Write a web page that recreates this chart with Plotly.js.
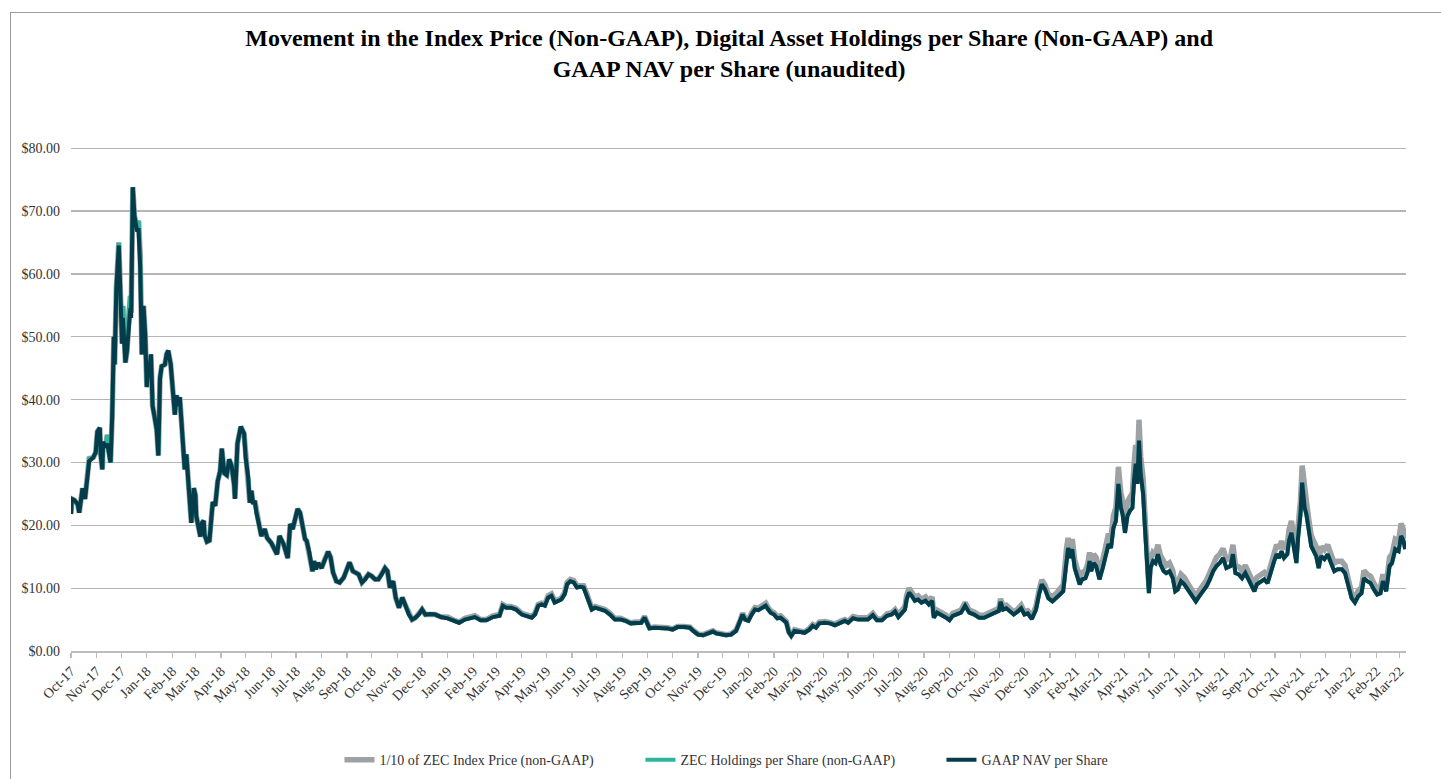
<!DOCTYPE html>
<html>
<head>
<meta charset="utf-8">
<script src="https://cdn.plot.ly/plotly-3.0.1.min.js"></script>
<style>
  html, body { margin: 0; padding: 0; background: #ffffff; overflow: hidden; }
  #frame { position: absolute; left: 10px; top: 12px; width: 1500px; height: 900px; border: 1px solid #9a9a9a; box-sizing: border-box; }
  #chart { position: absolute; left: 0; top: 0; width: 1441px; height: 779px; }
</style>
</head>
<body>
<div id="frame"></div>
<div id="chart"></div>
<script>
// ---- data ----
const seriesNames = [
  '1/10 of ZEC Index Price (non-GAAP)',
  'ZEC Holdings per Share (non-GAAP)',
  'GAAP NAV per Share'
];

const dates = [
  '2017-10-01','2017-10-02','2017-10-05','2017-10-09','2017-10-11','2017-10-15','2017-10-18','2017-10-21','2017-10-23','2017-10-28','2017-10-31',
  '2017-11-02','2017-11-05','2017-11-06','2017-11-08','2017-11-09','2017-11-12','2017-11-14','2017-11-16','2017-11-18','2017-11-20','2017-11-22','2017-11-23','2017-11-25','2017-11-28','2017-11-30',
  '2017-12-02','2017-12-03','2017-12-06','2017-12-08','2017-12-10','2017-12-12','2017-12-13','2017-12-15','2017-12-17','2017-12-20','2017-12-22','2017-12-24','2017-12-26','2017-12-28','2017-12-30',
  '2018-01-01','2018-01-03','2018-01-04','2018-01-06','2018-01-08','2018-01-11','2018-01-13','2018-01-15','2018-01-17','2018-01-19','2018-01-23','2018-01-25','2018-01-27','2018-01-30',
  '2018-02-02','2018-02-04','2018-02-06','2018-02-08','2018-02-10','2018-02-12','2018-02-14','2018-02-16','2018-02-18','2018-02-20','2018-02-22','2018-02-24','2018-02-27',
  '2018-03-01','2018-03-02','2018-03-05','2018-03-07','2018-03-09','2018-03-11','2018-03-12','2018-03-15','2018-03-18','2018-03-22','2018-03-25','2018-03-28','2018-03-31',
  '2018-04-02','2018-04-05','2018-04-08','2018-04-11','2018-04-14','2018-04-17','2018-04-18','2018-04-21','2018-04-25','2018-04-29',
  '2018-05-01','2018-05-04','2018-05-06','2018-05-08','2018-05-10','2018-05-12','2018-05-14','2018-05-18','2018-05-20','2018-05-24','2018-05-27',
  '2018-06-01','2018-06-05','2018-06-08','2018-06-11','2018-06-14','2018-06-16','2018-06-21','2018-06-24','2018-06-27','2018-06-29',
  '2018-07-03','2018-07-06','2018-07-09','2018-07-12','2018-07-14','2018-07-17','2018-07-21','2018-07-23','2018-07-25','2018-07-28',
  '2018-08-01','2018-08-05','2018-08-09','2018-08-12','2018-08-15','2018-08-19','2018-08-23','2018-08-28',
  '2018-09-01','2018-09-04','2018-09-08','2018-09-11','2018-09-15','2018-09-19','2018-09-23','2018-09-27',
  '2018-10-01','2018-10-05','2018-10-09','2018-10-13','2018-10-17','2018-10-20','2018-10-23','2018-10-27','2018-10-30',
  '2018-11-03','2018-11-07','2018-11-11','2018-11-15','2018-11-19','2018-11-23','2018-11-27',
  '2018-12-01','2018-12-05','2018-12-11','2018-12-17','2018-12-24',
  '2019-01-01','2019-01-09','2019-01-15','2019-01-22','2019-01-28',
  '2019-02-03','2019-02-10','2019-02-17','2019-02-25',
  '2019-03-05','2019-03-09','2019-03-13','2019-03-19','2019-03-25',
  '2019-04-01','2019-04-07','2019-04-13','2019-04-17','2019-04-21','2019-04-25','2019-04-29',
  '2019-05-03','2019-05-07','2019-05-11','2019-05-15','2019-05-19','2019-05-23','2019-05-26','2019-05-30',
  '2019-06-03','2019-06-07','2019-06-11','2019-06-15','2019-06-19','2019-06-23','2019-06-25','2019-06-29',
  '2019-07-05','2019-07-11','2019-07-17','2019-07-23','2019-07-30',
  '2019-08-05','2019-08-11','2019-08-17','2019-08-24','2019-08-28',
  '2019-09-01','2019-09-03','2019-09-09','2019-09-17','2019-09-25',
  '2019-10-01','2019-10-07','2019-10-15','2019-10-22','2019-10-26',
  '2019-11-01','2019-11-07','2019-11-13','2019-11-19','2019-11-23','2019-11-29',
  '2019-12-05','2019-12-11','2019-12-17','2019-12-22','2019-12-25','2019-12-28',
  '2020-01-01','2020-01-05','2020-01-09','2020-01-13','2020-01-17','2020-01-22','2020-01-25','2020-01-28',
  '2020-02-01','2020-02-05','2020-02-09','2020-02-13','2020-02-16','2020-02-19','2020-02-22','2020-02-26',
  '2020-03-03','2020-03-09','2020-03-15','2020-03-19','2020-03-23','2020-03-27',
  '2020-04-03','2020-04-09','2020-04-15','2020-04-21','2020-04-27',
  '2020-05-01','2020-05-07','2020-05-13','2020-05-19','2020-05-25','2020-05-31',
  '2020-06-05','2020-06-11','2020-06-17','2020-06-23','2020-06-27',
  '2020-07-01','2020-07-05','2020-07-09','2020-07-11','2020-07-14','2020-07-17','2020-07-21','2020-07-25','2020-07-29',
  '2020-08-03','2020-08-07','2020-08-11','2020-08-13','2020-08-17','2020-08-22','2020-08-28',
  '2020-09-01','2020-09-05','2020-09-09','2020-09-15','2020-09-20','2020-09-25',
  '2020-10-01','2020-10-07','2020-10-13','2020-10-19','2020-10-25','2020-10-31',
  '2020-11-02','2020-11-05','2020-11-09','2020-11-13','2020-11-18','2020-11-23','2020-11-27',
  '2020-12-01','2020-12-05','2020-12-10','2020-12-15','2020-12-19','2020-12-22','2020-12-26','2020-12-30',
  '2021-01-04','2021-01-09','2021-01-13','2021-01-17','2021-01-21','2021-01-23','2021-01-25','2021-01-28','2021-01-31',
  '2021-02-03','2021-02-06','2021-02-09','2021-02-13','2021-02-16','2021-02-18','2021-02-20','2021-02-23','2021-02-26',
  '2021-03-02','2021-03-06','2021-03-10','2021-03-13','2021-03-16','2021-03-19','2021-03-22','2021-03-25','2021-03-28','2021-03-30',
  '2021-04-02','2021-04-05','2021-04-08','2021-04-11','2021-04-13','2021-04-15','2021-04-17','2021-04-19','2021-04-21','2021-04-24','2021-04-26','2021-04-28',
  '2021-05-01','2021-05-03','2021-05-06','2021-05-09','2021-05-12','2021-05-15','2021-05-19','2021-05-22','2021-05-26','2021-05-30',
  '2021-06-02','2021-06-05','2021-06-09','2021-06-13','2021-06-17','2021-06-21','2021-06-25','2021-06-27',
  '2021-07-01','2021-07-06','2021-07-10','2021-07-14','2021-07-18','2021-07-22','2021-07-26','2021-07-30',
  '2021-08-03','2021-08-08','2021-08-11','2021-08-14','2021-08-18','2021-08-22','2021-08-26','2021-08-31',
  '2021-09-03','2021-09-06','2021-09-09','2021-09-14','2021-09-18','2021-09-22','2021-09-26','2021-09-30',
  '2021-10-03','2021-10-06','2021-10-09','2021-10-12','2021-10-16','2021-10-18','2021-10-21','2021-10-24','2021-10-27','2021-10-29',
  '2021-11-01','2021-11-03','2021-11-06','2021-11-08','2021-11-11','2021-11-14','2021-11-17','2021-11-20','2021-11-23','2021-11-26','2021-11-30',
  '2021-12-04','2021-12-08','2021-12-12','2021-12-16','2021-12-21','2021-12-25','2021-12-29',
  '2022-01-02','2022-01-06','2022-01-10','2022-01-14','2022-01-17','2022-01-21','2022-01-25','2022-01-29',
  '2022-02-02','2022-02-06','2022-02-09','2022-02-13','2022-02-17','2022-02-20','2022-02-24','2022-02-28',
  '2022-03-03','2022-03-06','2022-03-08'
];

// 1/10 of ZEC Index Price (non-GAAP)
const indexPrice = [
  21.8,24.2,24.0,23.4,22.0,25.9,24.2,28.6,30.6,30.8,31.6,
  34.9,35.5,31.3,28.9,33.3,32.4,34.4,31.1,30.0,37.4,50.0,45.6,57.6,65.0,55.5,
  48.9,54.9,45.9,47.8,54.4,56.5,53.8,73.8,69.2,67.5,68.5,63.0,47.2,54.9,50.5,
  42.0,45.6,44.5,47.2,39.0,36.8,35.2,31.1,43.4,45.3,45.6,47.2,47.8,45.6,
  39.6,37.6,40.7,39.0,40.4,36.3,32.4,28.9,31.3,27.5,24.2,20.4,25.9,
  24.8,21.5,19.0,18.2,20.4,20.7,18.5,17.4,17.6,23.7,23.1,27.0,28.6,
  32.2,28.3,28.0,30.5,29.4,26.4,24.2,33.0,35.7,34.6,
  30.8,27.6,23.6,25.5,23.4,23.9,22.0,19.6,18.3,19.4,18.0,
  17.2,16.2,15.4,18.3,17.5,17.0,14.8,20.2,19.4,20.7,
  22.6,22.0,19.6,17.8,17.5,15.8,12.7,14.3,13.0,14.0,
  13.2,14.6,15.8,14.9,12.5,11.1,10.9,11.7,
  13.0,14.1,12.7,12.5,12.2,10.9,11.4,12.2,
  11.9,11.4,11.4,12.2,13.2,12.7,10.1,11.1,8.5,
  6.9,8.5,7.2,5.8,5.0,5.3,5.8,
  6.6,5.8,5.9,5.8,5.4,
  5.4,4.9,4.6,5.2,5.4,
  5.6,5.0,5.0,5.6,
  5.8,7.4,7.1,7.1,6.8,
  6.0,5.8,5.5,6.0,7.4,7.6,7.4,
  8.8,9.1,7.9,8.2,8.4,9.3,10.9,11.4,
  11.2,10.4,10.5,10.4,9.1,7.6,6.8,7.1,
  6.8,6.6,6.0,5.2,5.2,
  4.9,4.5,4.6,4.6,5.5,
  4.3,3.7,3.8,3.8,3.7,
  3.5,3.9,3.9,3.8,3.3,
  2.7,2.6,2.9,3.2,2.9,2.7,
  2.6,2.7,3.3,4.9,6.0,5.2,
  5.0,6.1,6.9,6.8,7.2,7.6,6.9,6.4,
  6.1,5.5,5.6,5.0,4.7,3.1,2.5,3.4,
  3.3,3.0,3.6,4.2,3.9,4.6,
  4.7,4.6,4.3,4.7,5.0,
  4.7,5.5,5.3,5.3,5.3,6.0,
  5.1,5.1,5.9,6.1,6.6,
  5.8,6.5,7.1,8.8,10.0,9.4,8.6,8.8,8.2,
  8.6,7.9,8.6,5.7,6.5,6.2,5.7,
  5.2,6.0,6.2,6.5,7.7,6.5,
  6.2,5.7,5.7,6.1,6.5,6.8,
  8.3,7.1,7.3,6.7,6.2,6.7,7.3,
  6.2,6.4,5.5,7.1,9.8,11.3,10.5,9.0,
  8.7,9.2,9.9,10.5,16.3,18.0,16.3,17.8,14.5,
  12.8,11.7,12.5,12.8,14.0,15.7,14.0,15.4,14.9,
  12.5,14.5,16.9,18.7,18.0,21.6,22.8,29.3,25.1,24.0,
  20.7,23.7,24.5,25.1,29.8,32.8,29.3,36.8,31.0,27.5,22.2,16.3,
  10.1,14.5,15.7,15.4,16.9,15.2,14.0,13.6,14.0,12.8,
  10.5,10.8,12.2,11.7,10.8,10.1,9.2,8.7,
  9.6,10.5,11.3,12.5,14.0,14.9,15.4,16.3,
  14.5,14.9,16.9,13.6,13.4,12.8,13.6,12.2,
  11.3,10.5,11.7,12.2,12.5,11.9,14.0,15.7,
  16.9,16.3,17.5,16.3,16.9,19.3,20.7,18.0,15.4,19.8,
  24.0,29.5,25.1,24.0,21.0,18.4,17.5,16.6,14.5,16.6,16.1,
  16.9,15.4,14.0,14.3,14.3,13.6,11.7,
  9.2,8.5,9.6,10.1,12.8,12.2,11.9,10.8,
  9.9,10.1,12.2,10.5,14.9,15.4,17.8,17.5,
  20.3,19.3,17.8
];

// ZEC Holdings per Share (non-GAAP)
const holdingsPerShare = [
  21.8,24.2,24.0,23.4,22.0,25.9,24.2,28.6,30.6,30.8,31.6,
  34.9,35.5,31.3,28.9,33.3,32.4,34.4,31.1,30.0,37.4,50.0,45.6,57.6,65.0,55.5,
  48.9,54.9,45.9,47.8,54.4,56.5,53.8,73.8,69.2,67.5,68.5,63.0,47.2,54.9,50.5,
  42.0,45.6,44.5,47.2,39.0,36.8,35.2,31.1,43.4,45.3,45.6,47.2,47.8,45.6,
  39.6,37.6,40.7,39.0,40.4,36.3,32.4,28.9,31.3,27.5,24.2,20.4,25.9,
  24.8,21.5,19.0,18.2,20.4,20.7,18.5,17.4,17.6,23.7,23.1,27.0,28.6,
  32.2,28.3,28.0,30.5,29.4,26.4,24.2,33.0,35.7,34.6,
  30.8,27.6,23.6,25.5,23.4,23.9,22.0,19.6,18.3,19.4,18.0,
  17.2,16.2,15.4,18.3,17.5,17.0,14.8,20.2,19.4,20.7,
  22.6,22.0,19.6,17.8,17.5,15.8,12.7,14.3,13.0,14.0,
  13.2,14.6,15.8,14.9,12.5,11.1,10.9,11.7,
  13.0,14.1,12.7,12.5,12.2,10.9,11.4,12.2,
  11.9,11.4,11.4,12.2,13.2,12.7,10.1,11.1,8.5,
  6.9,8.5,7.2,5.8,5.0,5.3,5.8,
  6.6,5.8,5.9,5.8,5.4,
  5.2,4.8,4.5,5.0,5.2,
  5.4,4.9,4.9,5.4,
  5.6,7.2,6.9,6.9,6.6,
  5.8,5.6,5.3,5.8,7.2,7.4,7.2,
  8.5,8.8,7.7,8.0,8.2,9.0,10.6,11.1,
  10.9,10.1,10.2,10.1,8.8,7.4,6.6,6.9,
  6.6,6.4,5.8,5.0,5.0,
  4.8,4.4,4.5,4.5,5.3,
  4.2,3.6,3.7,3.7,3.6,
  3.4,3.8,3.8,3.7,3.2,
  2.6,2.5,2.8,3.1,2.8,2.6,
  2.5,2.6,3.2,4.8,5.8,5.0,
  4.8,5.8,6.6,6.5,6.9,7.2,6.6,6.1,
  5.8,5.2,5.3,4.8,4.5,3.0,2.4,3.2,
  3.1,2.9,3.4,4.0,3.7,4.4,
  4.5,4.4,4.1,4.5,4.8,
  4.5,5.2,5.0,5.0,5.0,5.7,
  4.9,4.9,5.6,5.8,6.3,
  5.4,6.1,6.6,8.2,9.3,8.8,8.0,8.2,7.7,
  8.0,7.4,8.0,5.3,6.1,5.8,5.3,
  4.9,5.6,5.8,6.1,7.2,6.1,
  5.8,5.3,5.3,5.7,6.1,6.4,
  7.8,6.6,6.8,6.3,5.8,6.3,6.8,
  5.8,6.0,5.1,6.6,9.2,10.6,9.8,8.4,
  7.9,8.4,9.0,9.5,14.8,16.4,14.8,16.2,13.2,
  11.6,10.6,11.4,11.6,12.7,14.3,12.7,14.0,13.5,
  11.4,13.2,15.4,17.0,16.4,19.6,20.7,26.6,22.8,21.8,
  18.8,21.5,22.3,22.8,27.1,29.8,26.6,33.5,28.2,25.0,20.2,14.8,
  9.2,13.2,14.3,14.0,15.4,13.8,12.7,12.4,12.7,11.6,
  9.5,9.8,11.1,10.6,9.8,9.2,8.4,7.9,
  8.7,9.5,10.3,11.4,12.7,13.5,14.0,14.8,
  13.2,13.5,15.4,12.4,12.2,11.6,12.4,11.1,
  10.3,9.5,10.6,11.1,11.4,10.8,12.7,14.3,
  15.4,14.8,15.9,14.8,15.4,17.5,18.8,16.4,14.0,18.0,
  21.8,26.8,22.8,21.8,19.1,16.7,15.9,15.1,13.2,15.1,14.6,
  15.4,14.0,12.7,13.0,13.0,12.4,10.6,
  8.4,7.7,8.7,9.2,11.6,11.1,10.8,9.8,
  9.0,9.2,11.1,9.5,13.5,14.0,16.2,15.9,
  18.3,17.5,16.2
];

// GAAP NAV per Share
const navPerShare = [
  21.8,24.2,24.0,23.4,22.0,25.9,24.2,28.0,30.2,30.8,31.6,
  34.9,35.5,31.3,28.9,33.3,32.4,33.0,31.1,30.0,37.4,50.0,45.6,57.6,64.5,55.5,
  48.9,53.0,45.9,47.8,52.5,54.5,53.0,73.8,69.2,67.0,67.0,61.0,47.2,54.9,50.5,
  42.0,45.6,44.5,47.2,39.0,36.8,35.2,31.1,43.4,45.3,45.6,47.2,47.8,45.6,
  39.6,37.6,40.7,39.0,40.4,36.3,32.4,28.9,31.3,27.5,24.2,20.4,25.9,
  24.8,21.5,19.0,18.2,20.4,20.7,18.5,17.4,17.6,23.7,23.1,27.0,28.6,
  32.2,28.3,28.0,30.5,29.4,26.4,24.2,33.0,35.7,34.6,
  30.8,27.6,23.6,25.5,23.4,23.9,22.0,19.6,18.3,19.4,18.0,
  17.2,16.2,15.4,18.3,17.5,17.0,14.8,20.2,19.4,20.7,
  22.6,22.0,19.6,17.8,17.5,15.8,12.7,14.3,13.0,14.0,
  13.2,14.6,15.8,14.9,12.5,11.1,10.9,11.7,
  13.0,14.1,12.7,12.5,12.2,10.9,11.4,12.2,
  11.9,11.4,11.4,12.2,13.2,12.7,10.1,11.1,8.5,
  6.9,8.5,7.2,5.8,5.0,5.3,5.8,
  6.6,5.8,5.9,5.8,5.4,
  5.2,4.8,4.5,5.0,5.2,
  5.4,4.9,4.9,5.4,
  5.6,7.2,6.9,6.9,6.6,
  5.8,5.6,5.3,5.8,7.2,7.4,7.2,
  8.5,8.8,7.7,8.0,8.2,9.0,10.6,11.1,
  10.9,10.1,10.2,10.1,8.8,7.4,6.6,6.9,
  6.6,6.4,5.8,5.0,5.0,
  4.8,4.4,4.5,4.5,5.3,
  4.2,3.6,3.7,3.7,3.6,
  3.4,3.8,3.8,3.7,3.2,
  2.6,2.5,2.8,3.1,2.8,2.6,
  2.5,2.6,3.2,4.8,5.8,5.0,
  4.8,5.8,6.6,6.5,6.9,7.2,6.6,6.1,
  5.8,5.2,5.3,4.8,4.5,3.0,2.4,3.2,
  3.1,2.9,3.4,4.0,3.7,4.4,
  4.5,4.4,4.1,4.5,4.8,
  4.5,5.2,5.0,5.0,5.0,5.7,
  4.9,4.9,5.6,5.8,6.3,
  5.4,6.1,6.6,8.2,9.3,8.8,8.0,8.2,7.7,
  8.0,7.4,8.0,5.3,6.1,5.8,5.3,
  4.9,5.6,5.8,6.1,7.2,6.1,
  5.8,5.3,5.3,5.7,6.1,6.4,
  7.8,6.6,6.8,6.3,5.8,6.3,6.8,
  5.8,6.0,5.1,6.6,9.2,10.6,9.8,8.4,
  7.9,8.4,9.0,9.5,14.8,16.4,14.8,16.2,13.2,
  11.6,10.6,11.4,11.6,12.7,14.3,12.7,14.0,13.5,
  11.4,13.2,15.4,17.0,16.4,19.6,20.7,26.6,22.8,21.8,
  18.8,21.5,22.3,22.8,27.1,29.8,26.6,33.5,28.2,25.0,20.2,14.8,
  9.2,13.2,14.3,14.0,15.4,13.8,12.7,12.4,12.7,11.6,
  9.5,9.8,11.1,10.6,9.8,9.2,8.4,7.9,
  8.7,9.5,10.3,11.4,12.7,13.5,14.0,14.8,
  13.2,13.5,15.4,12.4,12.2,11.6,12.4,11.1,
  10.3,9.5,10.6,11.1,11.4,10.8,12.7,14.3,
  15.4,14.8,15.9,14.8,15.4,17.5,18.8,16.4,14.0,18.0,
  21.8,26.8,22.8,21.8,19.1,16.7,15.9,15.1,13.2,15.1,14.6,
  15.4,14.0,12.7,13.0,13.0,12.4,10.6,
  8.4,7.7,8.7,9.2,11.6,11.1,10.8,9.8,
  9.0,9.2,11.1,9.5,13.5,14.0,16.2,15.9,
  18.3,17.5,16.2
];

const yTickValues = [0, 10, 20, 30, 40, 50, 60, 70, 80];

if (indexPrice.length !== dates.length || holdingsPerShare.length !== dates.length || navPerShare.length !== dates.length) {
  throw new Error('length mismatch: dates ' + dates.length + ' index ' + indexPrice.length + ' holdings ' + holdingsPerShare.length + ' nav ' + navPerShare.length);
}

// ---- chart ----
const serif = 'Liberation Serif, Times New Roman, serif';
const traces = [
  { x: dates, y: indexPrice, name: seriesNames[0], type: 'scatter', mode: 'lines',
    line: { color: '#9ea2a5', width: 5.5 } },
  { x: dates, y: holdingsPerShare, name: seriesNames[1], type: 'scatter', mode: 'lines',
    line: { color: '#2fb59b', width: 4 } },
  { x: dates, y: navPerShare, name: seriesNames[2], type: 'scatter', mode: 'lines',
    line: { color: '#053c4c', width: 4 } }
];

const layout = {
  width: 1441, height: 779,
  margin: { l: 71, r: 35, t: 147, b: 128, autoexpand: false },
  paper_bgcolor: 'rgba(0,0,0,0)', plot_bgcolor: 'rgba(0,0,0,0)',
  font: { family: serif, size: 14, color: '#333333' },
  title: {
    text: '<b>Movement in the Index Price (Non-GAAP), Digital Asset Holdings per Share (Non-GAAP) and<br>GAAP NAV per Share (unaudited)</b>',
    font: { family: serif, size: 24, color: '#000000' },
    xref: 'container', x: 0.506, xanchor: 'center',
    yref: 'container', y: 0.941, yanchor: 'top'
  },
  xaxis: {
    type: 'date',
    range: ['2017-10-01', '2022-03-09'],
    tick0: '2017-10-01', dtick: 'M1', tickformat: '%b-%y',
    tickangle: -45,
    ticks: 'outside', ticklen: 5, tickcolor: '#bdbdbd', tickwidth: 1.3,
    showline: true, linecolor: '#bdbdbd', linewidth: 1.5,
    showgrid: false, zeroline: false,
    tickfont: { family: serif, size: 14, color: '#333333' }
  },
  yaxis: {
    range: [0, 80.2], tickvals: yTickValues, tickformat: '$.2f',
    showgrid: true, gridcolor: '#b5b5b5', gridwidth: 1.3,
    showline: false, zeroline: false, ticks: '',
    ticklabelstandoff: 10,
    tickfont: { family: serif, size: 14, color: '#333333' }
  },
  legend: {
    orientation: 'h', x: 0.2011, xanchor: 'left', y: -0.2167, yanchor: 'middle',
    font: { family: serif, size: 14, color: '#333333' },
    entrywidth: 256, entrywidthmode: 'pixels',
    bgcolor: 'rgba(0,0,0,0)'
  },
  showlegend: true,
  hovermode: false
};

Plotly.newPlot('chart', traces, layout, { displayModeBar: false, staticPlot: true });
</script>
</body>
</html>
